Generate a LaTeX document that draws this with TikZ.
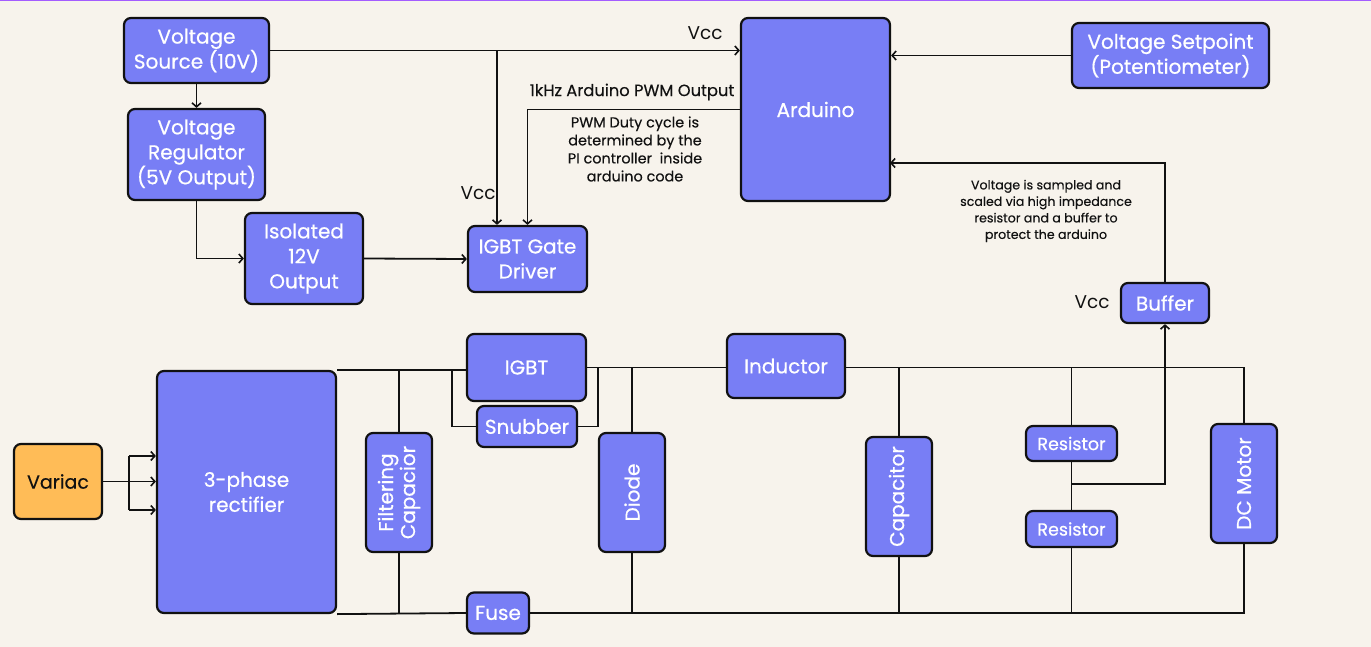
\documentclass[tikz,border=0pt]{standalone}
\usepackage{fontspec}
\setmainfont{Poppins}
\newfontfamily\boxfont{Poppins}[FakeBold=0.6]
\newfontfamily\medfont{Poppins}[FakeBold=0.3]
\usetikzlibrary{arrows.meta}
\definecolor{bg}{HTML}{F7F3EC}
\definecolor{blk}{HTML}{787EF5}
\definecolor{vari}{HTML}{FFBC57}
\definecolor{topline}{HTML}{A45CFF}
\definecolor{ink}{HTML}{111111}
\tikzset{
  box/.style={draw=ink, line width=2.2pt, rounded corners=7pt, fill=blk, text=white, align=center, inner sep=2pt,
    font=\boxfont\fontsize{20}{25}\selectfont},
  smallbox/.style={box, font=\boxfont\fontsize{17.5}{20}\selectfont},
  wire/.style={draw=ink, line width=1.8pt},
  arr/.style={wire, -{Straight Barb[length=4pt,width=9pt,line width=1.6pt]}},
  lbl/.style={text=ink, align=center, inner sep=0pt},
}
\begin{document}
\begin{tikzpicture}[x=1pt,y=-1pt]
\fill[bg] (0,0) rectangle (1371,647);
\useasboundingbox (0,0) rectangle (1371,647);
\draw[topline, line width=2pt] (0,0.5) -- (1371,0.5);

% control section
\node[box, minimum width=145, minimum height=65] (VS) at (196.5,50.5) {Voltage\\Source (10V)};
\node[box, minimum width=137, minimum height=91] (VR) at (196.5,154.5) {Voltage\\Regulator\\(5V Output)};
\node[box, minimum width=118, minimum height=91] (Iso) at (304,258.5) {Isolated\\12V\\Output};
\node[box, minimum width=119, minimum height=66] (GD) at (527.5,259) {IGBT Gate\\Driver};
\node[box, minimum width=149, minimum height=183] (Ard) at (815.5,109.5) {Arduino};
\node[box, minimum width=197, minimum height=65] (Set) at (1170.5,55.5) {Voltage Setpoint\\(Potentiometer)};
\node[box, minimum width=88, minimum height=40] (Buf) at (1165,303) {Buffer};

% power section
\node[box, minimum width=119, minimum height=67] (IGBT) at (526.5,367.5) {IGBT};
\node[box, minimum width=100, minimum height=41] (Snub) at (527,426.5) {Snubber};
\node[box, minimum width=118, minimum height=64] (Ind) at (786,366) {Inductor};
\node[box, fill=vari, text=ink, minimum width=88, minimum height=75, font=\medfont\fontsize{19}{22}\selectfont] (Var) at (58,481.5) {Variac};
\node[box, minimum width=179, minimum height=242] (Rect) at (246.5,492) {3-phase\\rectifier};
\node[box, minimum width=66, minimum height=119] (FiltC) at (399,492.5) {\rotatebox{90}{\begin{tabular}{@{}c@{}}Filtering\\[-3pt]Capacior\end{tabular}}};
\node[box, minimum width=66, minimum height=119] (Diode) at (632,492.5) {\rotatebox{90}{Diode}};
\node[box, minimum width=66, minimum height=119] (Cap) at (899,496.5) {\rotatebox{90}{Capacitor}};
\node[smallbox, minimum width=91, minimum height=35] (R1) at (1071.5,443.5) {Resistor};
\node[smallbox, minimum width=91, minimum height=36] (R2) at (1071.5,529) {Resistor};
\node[box, minimum width=66, minimum height=119] (Mot) at (1244,483.5) {\rotatebox{90}{DC Motor}};
\node[box, minimum width=62, minimum height=41] (Fuse) at (498,613) {Fuse};

% labels
\node[lbl, font=\fontsize{18.5}{20}\selectfont] (vcc1) at (705,33) {Vcc};
\node[lbl, font=\fontsize{18.5}{20}\selectfont] (vcc2) at (478,193) {Vcc};
\node[lbl, font=\fontsize{18.5}{20}\selectfont] (vcc3) at (1092,302) {Vcc};
\node[lbl, font=\medfont\fontsize{16.3}{18}\selectfont] (pwm) at (632,92) {1kHz Arduino PWM Output};
\node[lbl, font=\medfont\fontsize{14.4}{18}\selectfont] (duty) at (635,149) {PWM Duty cycle is\\determined by the\\PI controller\ \ inside\\arduino code};
\node[lbl, font=\medfont\fontsize{12.6}{16.5}\selectfont] (samp) at (1046,211) {Voltage is sampled and\\scaled via high impedance\\resistor and a buffer to\\protect the arduino};

% coordinates
\coordinate (vccj) at (497,50.5);
\coordinate (fb) at (890,163);
\coordinate (tap) at (1071.5,484);
\coordinate (sl) at (452,371);
\coordinate (sr) at (598,367.5);
\coordinate (trc) at (1244,367.5);
\coordinate (brc) at (1244,613);
\coordinate (vt) at (129,456);
\coordinate (vm) at (129,481.5);
\coordinate (vbt) at (129,510);

% control wiring
\draw[arr] (VS.south) -- (VR.north);
\draw[arr] (VR.south) |- (Iso.west);
\draw[arr] (Iso.east) -- (GD.west);
\draw[arr] (VS.east) -- (Ard.west |- VS.east);
\draw[arr] (vccj) -- (vccj |- GD.north);
\draw[arr] (Ard.west) -| (GD.north);
\draw[arr] (Set.west) -- (Ard.east |- Set.west);
\draw[arr] (Buf.north) |- (fb);
\draw[arr] (tap) -| (Buf.south);

% variac
\draw[wire] (vt) -- (vbt);
\draw[arr] (Var.east) -- (Rect.west |- vm);
\draw[arr] (vt) -- (Rect.west |- vt);
\draw[arr] (vbt) -- (Rect.west |- vbt);

% power wiring
\draw[wire] (Rect.north east) -- (IGBT.west |- Rect.north east);
\draw[wire] (FiltC.north) -- (FiltC.north |- Rect.north east);
\draw[wire] (FiltC.south) -- (FiltC.south |- Rect.south east);
\draw[wire] (sl) |- (Snub.west);
\draw[wire] (Snub.east) -| (sr);
\draw[wire] (IGBT.east) -- (Ind.west |- IGBT.east);
\draw[wire] (Ind.east |- trc) -- (trc) -- (Mot.north);
\draw[wire] (Diode.north) -- (Diode.north |- trc);
\draw[wire] (Cap.north) -- (Cap.north |- trc);
\draw[wire] (R1.north) -- (R1.north |- trc);
\draw[wire] (R1.south) -- (R2.north);
\draw[wire] (Rect.south east) -- (Fuse.west);
\draw[wire] (Fuse.east) -- (brc) -- (Mot.south);
\draw[wire] (Diode.south) -- (Diode.south |- brc);
\draw[wire] (Cap.south) -- (Cap.south |- brc);
\draw[wire] (R2.south) -- (R2.south |- brc);
\end{tikzpicture}
\end{document}
